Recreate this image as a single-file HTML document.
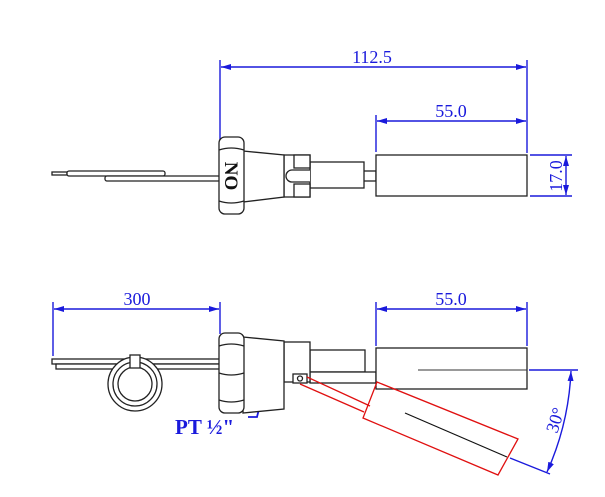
<!DOCTYPE html>
<html><head><meta charset="utf-8"><style>html,body{margin:0;padding:0;background:#fff}svg{display:block}</style></head>
<body>
<svg width="605" height="497" viewBox="0 0 605 497" xmlns="http://www.w3.org/2000/svg">
<defs>
<marker id="a" viewBox="0 0 10 6" refX="10" refY="3" markerWidth="10" markerHeight="6" orient="auto-start-reverse" markerUnits="userSpaceOnUse"><path d="M0,0 L10,3 L0,6 Z" fill="#1a1adc"/></marker>
</defs>
<g fill="none" stroke="#1a1adc" stroke-width="1.4">
<line x1="220" y1="60" x2="220" y2="140"/>
<line x1="527" y1="60" x2="527" y2="153"/>
<line x1="221" y1="67" x2="526" y2="67" marker-start="url(#a)" marker-end="url(#a)"/>
<line x1="376" y1="115" x2="376" y2="152"/>
<line x1="377" y1="121" x2="526" y2="121" marker-start="url(#a)" marker-end="url(#a)"/>
<line x1="530" y1="155" x2="572" y2="155"/>
<line x1="530" y1="196" x2="572" y2="196"/>
<line x1="566" y1="156" x2="566" y2="195" marker-start="url(#a)" marker-end="url(#a)"/>
<line x1="53" y1="302" x2="53" y2="356"/>
<line x1="220" y1="302" x2="220" y2="334"/>
<line x1="54" y1="309" x2="219" y2="309" marker-start="url(#a)" marker-end="url(#a)"/>
<line x1="376" y1="302" x2="376" y2="346"/>
<line x1="527" y1="302" x2="527" y2="346"/>
<line x1="377" y1="309" x2="526" y2="309" marker-start="url(#a)" marker-end="url(#a)"/>
<line x1="529" y1="370" x2="578" y2="370"/>
<line x1="510" y1="458" x2="550" y2="474"/>
<path d="M571,371 A275,275 0 0 1 547,472" marker-start="url(#a)" marker-end="url(#a)"/>
<path d="M248,417 L257,417 L262,397" stroke-width="1.8" marker-end="url(#a)"/>
</g>
<g font-family="Liberation Serif, serif" fill="#1a1adc" font-size="18">
<text x="372" y="63" text-anchor="middle">112.5</text>
<text x="451" y="117" text-anchor="middle">55.0</text>
<text x="0" y="0" text-anchor="middle" transform="translate(562,176) rotate(-90)">17.0</text>
<text x="137" y="305" text-anchor="middle">300</text>
<text x="451" y="305" text-anchor="middle">55.0</text>
<text x="0" y="0" text-anchor="middle" transform="translate(561,422) rotate(-72)">30°</text>
<text x="175" y="434" font-size="21" font-weight="bold">PT ½"</text>
</g>
<g fill="#fff" stroke="#222" stroke-width="1.3">
<rect x="52" y="172" width="15" height="3"/>
<rect x="67" y="171" width="98" height="5" rx="2"/>
<rect x="105" y="176" width="115" height="5" rx="2"/>
<rect x="313" y="171" width="63" height="10"/>
<rect x="310" y="162" width="54" height="26"/>
<rect x="284" y="155" width="26" height="42"/>
<rect x="294" y="155" width="16" height="13"/>
<rect x="294" y="184" width="16" height="13"/>
<path d="M310,170 L292,170 A6,6 0 0 0 292,182 L310,182"/>
<path d="M243,151 L284,155 L284,197 L243,202 Z"/>
<rect x="219" y="137" width="25" height="77" rx="6"/>
<path d="M219,150 Q231,146 244,150 M219,201 Q231,205 244,201" fill="none"/>
<rect x="376" y="155" width="151" height="41"/>
<rect x="52" y="359" width="168" height="5"/>
<rect x="56" y="364" width="164" height="5"/>
<circle cx="135" cy="384" r="27"/>
<circle cx="135" cy="384" r="22"/>
<circle cx="135" cy="384" r="17"/>
<rect x="130" y="355" width="10" height="13"/>
<rect x="310" y="350" width="55" height="22"/>
<rect x="310" y="372" width="66" height="11"/>
<rect x="284" y="342" width="26" height="40"/>
<path d="M243,337 L284,341 L284,409 L243,413 Z"/>
<rect x="219" y="333" width="25" height="80" rx="6"/>
<path d="M219,346 Q231,342 244,346 M219,373 Q231,377 244,373 M219,400 Q231,404 244,400" fill="none"/>
<rect x="376" y="348" width="151" height="41"/>
<rect x="293" y="374" width="14" height="9"/>
<circle cx="300" cy="378.5" r="2.5"/>
</g>
<text x="0" y="0" transform="translate(225,176) rotate(90)" text-anchor="middle" font-family="Liberation Serif, serif" font-weight="bold" font-size="19" fill="#111">NO</text>
<line x1="418" y1="370" x2="527" y2="370" stroke="#333" stroke-width="1"/>
<g fill="none" stroke="#e01010" stroke-width="1.3">
<line x1="307" y1="377" x2="370" y2="406"/>
<line x1="300" y1="384" x2="364" y2="412"/>
<path d="M377,382 L518,439 L498,475 L363,418 Z"/>
</g>
<line x1="405" y1="413" x2="507" y2="457" stroke="#111" stroke-width="1.2"/>
</svg>
</body></html>
